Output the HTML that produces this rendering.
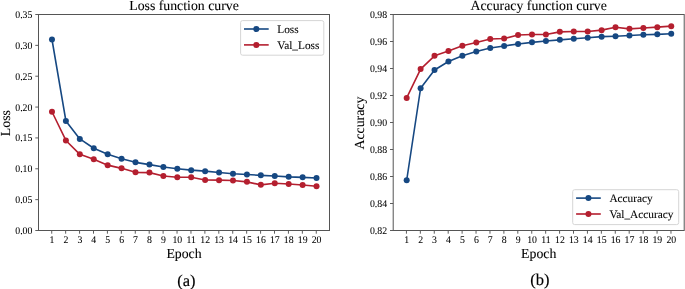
<!DOCTYPE html>
<html><head><meta charset="utf-8"><title>Loss and Accuracy curves</title>
<style>html,body{margin:0;padding:0;background:#fff;width:685px;height:289px;overflow:hidden}svg{display:block;will-change:transform;text-rendering:geometricPrecision}.t{stroke:#000;stroke-width:0.08px}.t2{stroke:#000;stroke-width:0.05px}.t3{stroke:#000;stroke-width:0.15px}</style>
</head><body><svg width="685" height="289" viewBox="0 0 685 289" font-family='"Liberation Serif", serif' fill="#000"><rect width="685" height="289" fill="#fff"/><path d="M51.98,39.50 L65.90,120.95 L79.82,138.95 L93.75,148.25 L107.67,154.35 L121.59,158.65 L135.52,162.35 L149.44,164.60 L163.36,166.95 L177.29,168.75 L191.21,170.15 L205.14,171.15 L219.06,172.55 L232.98,173.75 L246.91,174.55 L260.83,175.35 L274.75,175.95 L288.68,176.85 L302.60,177.35 L316.52,178.05" fill="none" stroke="#164882" stroke-width="1.6" stroke-linejoin="round" stroke-linecap="round"/><circle cx="51.98" cy="39.50" r="3.0" fill="#164882"/><circle cx="65.90" cy="120.95" r="3.0" fill="#164882"/><circle cx="79.82" cy="138.95" r="3.0" fill="#164882"/><circle cx="93.75" cy="148.25" r="3.0" fill="#164882"/><circle cx="107.67" cy="154.35" r="3.0" fill="#164882"/><circle cx="121.59" cy="158.65" r="3.0" fill="#164882"/><circle cx="135.52" cy="162.35" r="3.0" fill="#164882"/><circle cx="149.44" cy="164.60" r="3.0" fill="#164882"/><circle cx="163.36" cy="166.95" r="3.0" fill="#164882"/><circle cx="177.29" cy="168.75" r="3.0" fill="#164882"/><circle cx="191.21" cy="170.15" r="3.0" fill="#164882"/><circle cx="205.14" cy="171.15" r="3.0" fill="#164882"/><circle cx="219.06" cy="172.55" r="3.0" fill="#164882"/><circle cx="232.98" cy="173.75" r="3.0" fill="#164882"/><circle cx="246.91" cy="174.55" r="3.0" fill="#164882"/><circle cx="260.83" cy="175.35" r="3.0" fill="#164882"/><circle cx="274.75" cy="175.95" r="3.0" fill="#164882"/><circle cx="288.68" cy="176.85" r="3.0" fill="#164882"/><circle cx="302.60" cy="177.35" r="3.0" fill="#164882"/><circle cx="316.52" cy="178.05" r="3.0" fill="#164882"/><path d="M51.98,111.75 L65.90,140.45 L79.82,154.35 L93.75,159.35 L107.67,165.15 L121.59,168.35 L135.52,172.35 L149.44,172.60 L163.36,176.05 L177.29,177.25 L191.21,177.25 L205.14,179.95 L219.06,180.15 L232.98,180.55 L246.91,181.85 L260.83,184.85 L274.75,183.25 L288.68,184.05 L302.60,184.95 L316.52,186.25" fill="none" stroke="#b41f2f" stroke-width="1.6" stroke-linejoin="round" stroke-linecap="round"/><circle cx="51.98" cy="111.75" r="3.0" fill="#b41f2f"/><circle cx="65.90" cy="140.45" r="3.0" fill="#b41f2f"/><circle cx="79.82" cy="154.35" r="3.0" fill="#b41f2f"/><circle cx="93.75" cy="159.35" r="3.0" fill="#b41f2f"/><circle cx="107.67" cy="165.15" r="3.0" fill="#b41f2f"/><circle cx="121.59" cy="168.35" r="3.0" fill="#b41f2f"/><circle cx="135.52" cy="172.35" r="3.0" fill="#b41f2f"/><circle cx="149.44" cy="172.60" r="3.0" fill="#b41f2f"/><circle cx="163.36" cy="176.05" r="3.0" fill="#b41f2f"/><circle cx="177.29" cy="177.25" r="3.0" fill="#b41f2f"/><circle cx="191.21" cy="177.25" r="3.0" fill="#b41f2f"/><circle cx="205.14" cy="179.95" r="3.0" fill="#b41f2f"/><circle cx="219.06" cy="180.15" r="3.0" fill="#b41f2f"/><circle cx="232.98" cy="180.55" r="3.0" fill="#b41f2f"/><circle cx="246.91" cy="181.85" r="3.0" fill="#b41f2f"/><circle cx="260.83" cy="184.85" r="3.0" fill="#b41f2f"/><circle cx="274.75" cy="183.25" r="3.0" fill="#b41f2f"/><circle cx="288.68" cy="184.05" r="3.0" fill="#b41f2f"/><circle cx="302.60" cy="184.95" r="3.0" fill="#b41f2f"/><circle cx="316.52" cy="186.25" r="3.0" fill="#b41f2f"/><line x1="51.73" y1="230.5" x2="51.73" y2="233.7" stroke="#333" stroke-width="0.8"/><text class="t2" transform="translate(52.03,243.2) scale(1.0,1.05)" font-size="9.8" text-anchor="middle">1</text><line x1="65.65" y1="230.5" x2="65.65" y2="233.7" stroke="#333" stroke-width="0.8"/><text class="t2" transform="translate(65.95,243.2) scale(1.0,1.05)" font-size="9.8" text-anchor="middle">2</text><line x1="79.57" y1="230.5" x2="79.57" y2="233.7" stroke="#333" stroke-width="0.8"/><text class="t2" transform="translate(79.87,243.2) scale(1.0,1.05)" font-size="9.8" text-anchor="middle">3</text><line x1="93.50" y1="230.5" x2="93.50" y2="233.7" stroke="#333" stroke-width="0.8"/><text class="t2" transform="translate(93.80,243.2) scale(1.0,1.05)" font-size="9.8" text-anchor="middle">4</text><line x1="107.42" y1="230.5" x2="107.42" y2="233.7" stroke="#333" stroke-width="0.8"/><text class="t2" transform="translate(107.72,243.2) scale(1.0,1.05)" font-size="9.8" text-anchor="middle">5</text><line x1="121.34" y1="230.5" x2="121.34" y2="233.7" stroke="#333" stroke-width="0.8"/><text class="t2" transform="translate(121.64,243.2) scale(1.0,1.05)" font-size="9.8" text-anchor="middle">6</text><line x1="135.27" y1="230.5" x2="135.27" y2="233.7" stroke="#333" stroke-width="0.8"/><text class="t2" transform="translate(135.57,243.2) scale(1.0,1.05)" font-size="9.8" text-anchor="middle">7</text><line x1="149.19" y1="230.5" x2="149.19" y2="233.7" stroke="#333" stroke-width="0.8"/><text class="t2" transform="translate(149.49,243.2) scale(1.0,1.05)" font-size="9.8" text-anchor="middle">8</text><line x1="163.11" y1="230.5" x2="163.11" y2="233.7" stroke="#333" stroke-width="0.8"/><text class="t2" transform="translate(163.41,243.2) scale(1.0,1.05)" font-size="9.8" text-anchor="middle">9</text><line x1="177.04" y1="230.5" x2="177.04" y2="233.7" stroke="#333" stroke-width="0.8"/><text class="t2" transform="translate(177.34,243.2) scale(1.0,1.05)" font-size="9.8" text-anchor="middle">10</text><line x1="190.96" y1="230.5" x2="190.96" y2="233.7" stroke="#333" stroke-width="0.8"/><text class="t2" transform="translate(191.26,243.2) scale(1.0,1.05)" font-size="9.8" text-anchor="middle">11</text><line x1="204.89" y1="230.5" x2="204.89" y2="233.7" stroke="#333" stroke-width="0.8"/><text class="t2" transform="translate(205.19,243.2) scale(1.0,1.05)" font-size="9.8" text-anchor="middle">12</text><line x1="218.81" y1="230.5" x2="218.81" y2="233.7" stroke="#333" stroke-width="0.8"/><text class="t2" transform="translate(219.11,243.2) scale(1.0,1.05)" font-size="9.8" text-anchor="middle">13</text><line x1="232.73" y1="230.5" x2="232.73" y2="233.7" stroke="#333" stroke-width="0.8"/><text class="t2" transform="translate(233.03,243.2) scale(1.0,1.05)" font-size="9.8" text-anchor="middle">14</text><line x1="246.66" y1="230.5" x2="246.66" y2="233.7" stroke="#333" stroke-width="0.8"/><text class="t2" transform="translate(246.96,243.2) scale(1.0,1.05)" font-size="9.8" text-anchor="middle">15</text><line x1="260.58" y1="230.5" x2="260.58" y2="233.7" stroke="#333" stroke-width="0.8"/><text class="t2" transform="translate(260.88,243.2) scale(1.0,1.05)" font-size="9.8" text-anchor="middle">16</text><line x1="274.50" y1="230.5" x2="274.50" y2="233.7" stroke="#333" stroke-width="0.8"/><text class="t2" transform="translate(274.80,243.2) scale(1.0,1.05)" font-size="9.8" text-anchor="middle">17</text><line x1="288.43" y1="230.5" x2="288.43" y2="233.7" stroke="#333" stroke-width="0.8"/><text class="t2" transform="translate(288.73,243.2) scale(1.0,1.05)" font-size="9.8" text-anchor="middle">18</text><line x1="302.35" y1="230.5" x2="302.35" y2="233.7" stroke="#333" stroke-width="0.8"/><text class="t2" transform="translate(302.65,243.2) scale(1.0,1.05)" font-size="9.8" text-anchor="middle">19</text><line x1="316.27" y1="230.5" x2="316.27" y2="233.7" stroke="#333" stroke-width="0.8"/><text class="t2" transform="translate(316.57,243.2) scale(1.0,1.05)" font-size="9.8" text-anchor="middle">20</text><line x1="35.3" y1="230.50" x2="38.5" y2="230.50" stroke="#333" stroke-width="0.8"/><text class="t2" transform="translate(32.40,234.00) scale(1.0,1.05)" font-size="9.8" text-anchor="end">0.00</text><line x1="35.3" y1="199.64" x2="38.5" y2="199.64" stroke="#333" stroke-width="0.8"/><text class="t2" transform="translate(32.40,203.14) scale(1.0,1.05)" font-size="9.8" text-anchor="end">0.05</text><line x1="35.3" y1="168.79" x2="38.5" y2="168.79" stroke="#333" stroke-width="0.8"/><text class="t2" transform="translate(32.40,172.29) scale(1.0,1.05)" font-size="9.8" text-anchor="end">0.10</text><line x1="35.3" y1="137.93" x2="38.5" y2="137.93" stroke="#333" stroke-width="0.8"/><text class="t2" transform="translate(32.40,141.43) scale(1.0,1.05)" font-size="9.8" text-anchor="end">0.15</text><line x1="35.3" y1="107.07" x2="38.5" y2="107.07" stroke="#333" stroke-width="0.8"/><text class="t2" transform="translate(32.40,110.57) scale(1.0,1.05)" font-size="9.8" text-anchor="end">0.20</text><line x1="35.3" y1="76.21" x2="38.5" y2="76.21" stroke="#333" stroke-width="0.8"/><text class="t2" transform="translate(32.40,79.71) scale(1.0,1.05)" font-size="9.8" text-anchor="end">0.25</text><line x1="35.3" y1="45.36" x2="38.5" y2="45.36" stroke="#333" stroke-width="0.8"/><text class="t2" transform="translate(32.40,48.86) scale(1.0,1.05)" font-size="9.8" text-anchor="end">0.30</text><line x1="35.3" y1="14.50" x2="38.5" y2="14.50" stroke="#333" stroke-width="0.8"/><text class="t2" transform="translate(32.40,18.00) scale(1.0,1.05)" font-size="9.8" text-anchor="end">0.35</text><rect x="38.5" y="14.5" width="291.00" height="216.00" fill="none" stroke="#555" stroke-width="1"/><text class="t" x="184.00" y="10.2" font-size="13.8" text-anchor="middle">Loss function curve</text><text class="t" x="184.00" y="258.1" font-size="13.8" text-anchor="middle">Epoch</text><text class="t" transform="translate(9.7,123.10) rotate(-90)" font-size="13.8" text-anchor="middle">Loss</text><rect x="240.6" y="20.6" width="83.2" height="34.6" rx="2" ry="2" fill="#fff" fill-opacity="0.8" stroke="#d6d6d6" stroke-width="1"/><line x1="244.00" y1="29.00" x2="268.70" y2="29.00" stroke="#164882" stroke-width="1.6"/><circle cx="256.35" cy="29.00" r="3.0" fill="#164882"/><text class="t" x="277.30" y="33.00" font-size="11.3">Loss</text><line x1="244.00" y1="44.90" x2="268.70" y2="44.90" stroke="#b41f2f" stroke-width="1.6"/><circle cx="256.35" cy="44.90" r="3.0" fill="#b41f2f"/><text class="t" x="277.30" y="48.90" font-size="11.3">Val_Loss</text><path d="M406.68,180.25 L420.60,88.25 L434.52,70.05 L448.45,61.45 L462.37,55.65 L476.29,51.55 L490.22,48.05 L504.14,45.95 L518.06,44.05 L531.99,42.35 L545.91,40.95 L559.84,39.85 L573.76,38.75 L587.68,37.75 L601.61,36.65 L615.53,36.25 L629.45,35.55 L643.38,34.75 L657.30,34.35 L671.22,33.75" fill="none" stroke="#164882" stroke-width="1.6" stroke-linejoin="round" stroke-linecap="round"/><circle cx="406.68" cy="180.25" r="3.0" fill="#164882"/><circle cx="420.60" cy="88.25" r="3.0" fill="#164882"/><circle cx="434.52" cy="70.05" r="3.0" fill="#164882"/><circle cx="448.45" cy="61.45" r="3.0" fill="#164882"/><circle cx="462.37" cy="55.65" r="3.0" fill="#164882"/><circle cx="476.29" cy="51.55" r="3.0" fill="#164882"/><circle cx="490.22" cy="48.05" r="3.0" fill="#164882"/><circle cx="504.14" cy="45.95" r="3.0" fill="#164882"/><circle cx="518.06" cy="44.05" r="3.0" fill="#164882"/><circle cx="531.99" cy="42.35" r="3.0" fill="#164882"/><circle cx="545.91" cy="40.95" r="3.0" fill="#164882"/><circle cx="559.84" cy="39.85" r="3.0" fill="#164882"/><circle cx="573.76" cy="38.75" r="3.0" fill="#164882"/><circle cx="587.68" cy="37.75" r="3.0" fill="#164882"/><circle cx="601.61" cy="36.65" r="3.0" fill="#164882"/><circle cx="615.53" cy="36.25" r="3.0" fill="#164882"/><circle cx="629.45" cy="35.55" r="3.0" fill="#164882"/><circle cx="643.38" cy="34.75" r="3.0" fill="#164882"/><circle cx="657.30" cy="34.35" r="3.0" fill="#164882"/><circle cx="671.22" cy="33.75" r="3.0" fill="#164882"/><path d="M406.68,97.90 L420.60,69.05 L434.52,55.85 L448.45,51.05 L462.37,45.75 L476.29,42.55 L490.22,39.05 L504.14,38.55 L518.06,35.05 L531.99,34.45 L545.91,34.45 L559.84,31.85 L573.76,31.55 L587.68,31.55 L601.61,30.15 L615.53,27.25 L629.45,28.85 L643.38,28.05 L657.30,27.15 L671.22,26.15" fill="none" stroke="#b41f2f" stroke-width="1.6" stroke-linejoin="round" stroke-linecap="round"/><circle cx="406.68" cy="97.90" r="3.0" fill="#b41f2f"/><circle cx="420.60" cy="69.05" r="3.0" fill="#b41f2f"/><circle cx="434.52" cy="55.85" r="3.0" fill="#b41f2f"/><circle cx="448.45" cy="51.05" r="3.0" fill="#b41f2f"/><circle cx="462.37" cy="45.75" r="3.0" fill="#b41f2f"/><circle cx="476.29" cy="42.55" r="3.0" fill="#b41f2f"/><circle cx="490.22" cy="39.05" r="3.0" fill="#b41f2f"/><circle cx="504.14" cy="38.55" r="3.0" fill="#b41f2f"/><circle cx="518.06" cy="35.05" r="3.0" fill="#b41f2f"/><circle cx="531.99" cy="34.45" r="3.0" fill="#b41f2f"/><circle cx="545.91" cy="34.45" r="3.0" fill="#b41f2f"/><circle cx="559.84" cy="31.85" r="3.0" fill="#b41f2f"/><circle cx="573.76" cy="31.55" r="3.0" fill="#b41f2f"/><circle cx="587.68" cy="31.55" r="3.0" fill="#b41f2f"/><circle cx="601.61" cy="30.15" r="3.0" fill="#b41f2f"/><circle cx="615.53" cy="27.25" r="3.0" fill="#b41f2f"/><circle cx="629.45" cy="28.85" r="3.0" fill="#b41f2f"/><circle cx="643.38" cy="28.05" r="3.0" fill="#b41f2f"/><circle cx="657.30" cy="27.15" r="3.0" fill="#b41f2f"/><circle cx="671.22" cy="26.15" r="3.0" fill="#b41f2f"/><line x1="406.43" y1="230.5" x2="406.43" y2="233.7" stroke="#333" stroke-width="0.8"/><text class="t2" transform="translate(406.73,243.2) scale(1.0,1.05)" font-size="9.8" text-anchor="middle">1</text><line x1="420.35" y1="230.5" x2="420.35" y2="233.7" stroke="#333" stroke-width="0.8"/><text class="t2" transform="translate(420.65,243.2) scale(1.0,1.05)" font-size="9.8" text-anchor="middle">2</text><line x1="434.27" y1="230.5" x2="434.27" y2="233.7" stroke="#333" stroke-width="0.8"/><text class="t2" transform="translate(434.57,243.2) scale(1.0,1.05)" font-size="9.8" text-anchor="middle">3</text><line x1="448.20" y1="230.5" x2="448.20" y2="233.7" stroke="#333" stroke-width="0.8"/><text class="t2" transform="translate(448.50,243.2) scale(1.0,1.05)" font-size="9.8" text-anchor="middle">4</text><line x1="462.12" y1="230.5" x2="462.12" y2="233.7" stroke="#333" stroke-width="0.8"/><text class="t2" transform="translate(462.42,243.2) scale(1.0,1.05)" font-size="9.8" text-anchor="middle">5</text><line x1="476.04" y1="230.5" x2="476.04" y2="233.7" stroke="#333" stroke-width="0.8"/><text class="t2" transform="translate(476.34,243.2) scale(1.0,1.05)" font-size="9.8" text-anchor="middle">6</text><line x1="489.97" y1="230.5" x2="489.97" y2="233.7" stroke="#333" stroke-width="0.8"/><text class="t2" transform="translate(490.27,243.2) scale(1.0,1.05)" font-size="9.8" text-anchor="middle">7</text><line x1="503.89" y1="230.5" x2="503.89" y2="233.7" stroke="#333" stroke-width="0.8"/><text class="t2" transform="translate(504.19,243.2) scale(1.0,1.05)" font-size="9.8" text-anchor="middle">8</text><line x1="517.81" y1="230.5" x2="517.81" y2="233.7" stroke="#333" stroke-width="0.8"/><text class="t2" transform="translate(518.11,243.2) scale(1.0,1.05)" font-size="9.8" text-anchor="middle">9</text><line x1="531.74" y1="230.5" x2="531.74" y2="233.7" stroke="#333" stroke-width="0.8"/><text class="t2" transform="translate(532.04,243.2) scale(1.0,1.05)" font-size="9.8" text-anchor="middle">10</text><line x1="545.66" y1="230.5" x2="545.66" y2="233.7" stroke="#333" stroke-width="0.8"/><text class="t2" transform="translate(545.96,243.2) scale(1.0,1.05)" font-size="9.8" text-anchor="middle">11</text><line x1="559.59" y1="230.5" x2="559.59" y2="233.7" stroke="#333" stroke-width="0.8"/><text class="t2" transform="translate(559.89,243.2) scale(1.0,1.05)" font-size="9.8" text-anchor="middle">12</text><line x1="573.51" y1="230.5" x2="573.51" y2="233.7" stroke="#333" stroke-width="0.8"/><text class="t2" transform="translate(573.81,243.2) scale(1.0,1.05)" font-size="9.8" text-anchor="middle">13</text><line x1="587.43" y1="230.5" x2="587.43" y2="233.7" stroke="#333" stroke-width="0.8"/><text class="t2" transform="translate(587.73,243.2) scale(1.0,1.05)" font-size="9.8" text-anchor="middle">14</text><line x1="601.36" y1="230.5" x2="601.36" y2="233.7" stroke="#333" stroke-width="0.8"/><text class="t2" transform="translate(601.66,243.2) scale(1.0,1.05)" font-size="9.8" text-anchor="middle">15</text><line x1="615.28" y1="230.5" x2="615.28" y2="233.7" stroke="#333" stroke-width="0.8"/><text class="t2" transform="translate(615.58,243.2) scale(1.0,1.05)" font-size="9.8" text-anchor="middle">16</text><line x1="629.20" y1="230.5" x2="629.20" y2="233.7" stroke="#333" stroke-width="0.8"/><text class="t2" transform="translate(629.50,243.2) scale(1.0,1.05)" font-size="9.8" text-anchor="middle">17</text><line x1="643.13" y1="230.5" x2="643.13" y2="233.7" stroke="#333" stroke-width="0.8"/><text class="t2" transform="translate(643.43,243.2) scale(1.0,1.05)" font-size="9.8" text-anchor="middle">18</text><line x1="657.05" y1="230.5" x2="657.05" y2="233.7" stroke="#333" stroke-width="0.8"/><text class="t2" transform="translate(657.35,243.2) scale(1.0,1.05)" font-size="9.8" text-anchor="middle">19</text><line x1="670.97" y1="230.5" x2="670.97" y2="233.7" stroke="#333" stroke-width="0.8"/><text class="t2" transform="translate(671.27,243.2) scale(1.0,1.05)" font-size="9.8" text-anchor="middle">20</text><line x1="390.0" y1="230.50" x2="393.2" y2="230.50" stroke="#333" stroke-width="0.8"/><text class="t2" transform="translate(387.10,234.00) scale(1.0,1.05)" font-size="9.8" text-anchor="end">0.82</text><line x1="390.0" y1="203.50" x2="393.2" y2="203.50" stroke="#333" stroke-width="0.8"/><text class="t2" transform="translate(387.10,207.00) scale(1.0,1.05)" font-size="9.8" text-anchor="end">0.84</text><line x1="390.0" y1="176.50" x2="393.2" y2="176.50" stroke="#333" stroke-width="0.8"/><text class="t2" transform="translate(387.10,180.00) scale(1.0,1.05)" font-size="9.8" text-anchor="end">0.86</text><line x1="390.0" y1="149.50" x2="393.2" y2="149.50" stroke="#333" stroke-width="0.8"/><text class="t2" transform="translate(387.10,153.00) scale(1.0,1.05)" font-size="9.8" text-anchor="end">0.88</text><line x1="390.0" y1="122.50" x2="393.2" y2="122.50" stroke="#333" stroke-width="0.8"/><text class="t2" transform="translate(387.10,126.00) scale(1.0,1.05)" font-size="9.8" text-anchor="end">0.90</text><line x1="390.0" y1="95.50" x2="393.2" y2="95.50" stroke="#333" stroke-width="0.8"/><text class="t2" transform="translate(387.10,99.00) scale(1.0,1.05)" font-size="9.8" text-anchor="end">0.92</text><line x1="390.0" y1="68.50" x2="393.2" y2="68.50" stroke="#333" stroke-width="0.8"/><text class="t2" transform="translate(387.10,72.00) scale(1.0,1.05)" font-size="9.8" text-anchor="end">0.94</text><line x1="390.0" y1="41.50" x2="393.2" y2="41.50" stroke="#333" stroke-width="0.8"/><text class="t2" transform="translate(387.10,45.00) scale(1.0,1.05)" font-size="9.8" text-anchor="end">0.96</text><line x1="390.0" y1="14.50" x2="393.2" y2="14.50" stroke="#333" stroke-width="0.8"/><text class="t2" transform="translate(387.10,18.00) scale(1.0,1.05)" font-size="9.8" text-anchor="end">0.98</text><rect x="393.2" y="14.5" width="291.00" height="216.00" fill="none" stroke="#555" stroke-width="1"/><text class="t" x="538.70" y="10.2" font-size="13.8" text-anchor="middle">Accuracy function curve</text><text class="t" x="538.70" y="258.1" font-size="13.8" text-anchor="middle">Epoch</text><text class="t" transform="translate(363.8,123.10) rotate(-90)" font-size="13.8" text-anchor="middle">Accuracy</text><rect x="572.7" y="189.7" width="106.0" height="34.9" rx="2" ry="2" fill="#fff" fill-opacity="0.8" stroke="#d6d6d6" stroke-width="1"/><line x1="576.10" y1="198.10" x2="600.80" y2="198.10" stroke="#164882" stroke-width="1.6"/><circle cx="588.45" cy="198.10" r="3.0" fill="#164882"/><text class="t" x="609.40" y="202.10" font-size="11.3">Accuracy</text><line x1="576.10" y1="214.00" x2="600.80" y2="214.00" stroke="#b41f2f" stroke-width="1.6"/><circle cx="588.45" cy="214.00" r="3.0" fill="#b41f2f"/><text class="t" x="609.40" y="218.00" font-size="11.3">Val_Accuracy</text><text class="t3" x="186.4" y="285.8" font-size="16.5" text-anchor="middle">(a)</text><text class="t3" x="539.9" y="285.3" font-size="16.5" text-anchor="middle">(b)</text></svg></body></html>
